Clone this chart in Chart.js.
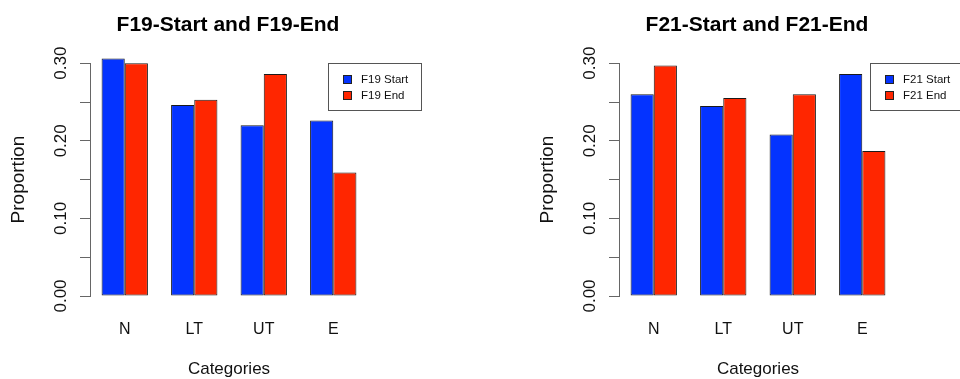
<!DOCTYPE html>
<html>
<head>
<meta charset="utf-8">
<script src="https://cdn.jsdelivr.net/npm/chart.js@4.4.1/dist/chart.umd.min.js"></script>
<style>
  body { margin: 0; background: #fff; overflow: hidden; width: 960px; height: 379px; position: relative; }
  canvas { position: absolute; top: 0; }
  #left { left: 0; }
  #right { left: 529px; }
</style>
</head>
<body>
<canvas id="left" width="480" height="379"></canvas>
<canvas id="right" width="480" height="379"></canvas>
<script>
// data
const categories = ["N", "LT", "UT", "E"];
const f19Start = [0.306, 0.246, 0.220, 0.226];
const f19End   = [0.300, 0.253, 0.286, 0.159];
const f21Start = [0.260, 0.245, 0.208, 0.286];
const f21End   = [0.297, 0.255, 0.260, 0.187];
const yMin = 0, yMax = 0.30, yStep = 0.05;

const blue = "#0433FF";
const red = "#FF2600";
const fontFam = '"Liberation Sans", Arial, Helvetica, sans-serif';

// legend with a box round it, like R's legend()
const boxLegend = {
  id: "boxLegend",
  afterDraw(chart, args, opts) {
    const ctx = chart.ctx;
    const area = chart.chartArea;
    const x = Math.round(area.right + opts.shift);
    const y = Math.round(area.top);
    ctx.save();
    ctx.strokeStyle = "#555";
    ctx.lineWidth = 1;
    ctx.strokeRect(x + 0.5, y + 0.5, 93, 47);
    ctx.font = "11.5px " + fontFam;
    ctx.textBaseline = "middle";
    chart.data.datasets.forEach((ds, i) => {
      const cy = y + 16 + i * 16;
      ctx.fillStyle = ds.backgroundColor;
      ctx.fillRect(x + 16, cy - 3, 7, 7);
      ctx.strokeStyle = "#222";
      ctx.strokeRect(x + 15.5, cy - 3.5, 8, 8);
      ctx.fillStyle = "#111";
      ctx.fillText(ds.label, x + 33, cy + 0.5);
    });
    ctx.restore();
  }
};

function makeChart(id, title, labelStart, labelEnd, dataStart, dataEnd, legendShift) {
  return new Chart(document.getElementById(id), {
    type: "bar",
    data: {
      labels: categories,
      datasets: [
        { label: labelStart, data: dataStart, backgroundColor: blue, borderColor: "#1a1a1a",
          borderWidth: 1, borderSkipped: false, categoryPercentage: 2 / 3, barPercentage: 1, clip: false },
        { label: labelEnd, data: dataEnd, backgroundColor: red, borderColor: "#1a1a1a",
          borderWidth: 1, borderSkipped: false, categoryPercentage: 2 / 3, barPercentage: 1, clip: false }
      ]
    },
    options: {
      responsive: false,
      animation: false,
      layout: { padding: { left: 0, right: 24, top: 0, bottom: 0 } },
      plugins: {
        legend: { display: false },
        tooltip: { enabled: false },
        title: {
          display: true,
          text: title,
          color: "#000",
          font: { family: fontFam, size: 21, weight: "bold", lineHeight: 1.2 },
          padding: { top: 13, bottom: 25 }
        },
        boxLegend: { shift: legendShift }
      },
      scales: {
        x: {
          grid: { display: false, drawTicks: false },
          border: { display: false },
          ticks: { color: "#111", font: { family: fontFam, size: 16 }, padding: 24 },
          title: {
            display: true, text: "Categories", color: "#111",
            font: { family: fontFam, size: 17, lineHeight: 1.2 },
            padding: { top: 0, bottom: -1 }
          },
          afterFit(scale) { scale.width = scale.width; scale.height = 83; }
        },
        y: {
          min: yMin,
          max: yMax,
          grid: { display: true, drawOnChartArea: false, drawTicks: true, tickLength: 10, color: "#666" },
          border: { display: true, color: "#666", width: 1 },
          ticks: {
            stepSize: yStep,
            minRotation: 90,
            maxRotation: 90,
            crossAlign: "center",
            padding: 2,
            color: "#111",
            font: { family: fontFam, size: 17 },
            callback: v => (Math.round(v * 20) % 2 === 0 ? v.toFixed(2) : "")
          },
          title: {
            display: true, text: "Proportion", color: "#111",
            font: { family: fontFam, size: 19, lineHeight: 1.2 },
            padding: { top: 7, bottom: 0 }
          },
          afterFit(scale) { scale.width = 90; }
        },
        // empty right margin so the title centres like the original
        yRight: {
          position: "right",
          min: yMin,
          max: yMax,
          grid: { display: false, drawTicks: false },
          border: { display: false },
          ticks: { display: false },
          afterFit(scale) { scale.width = 88; }
        }
      }
    },
    plugins: [boxLegend]
  });
}

makeChart("left", "F19-Start and F19-End", "F19 Start", "F19 End", f19Start, f19End, -40);
makeChart("right", "F21-Start and F21-End", "F21 Start", "F21 End", f21Start, f21End, -27);
</script>
</body>
</html>
